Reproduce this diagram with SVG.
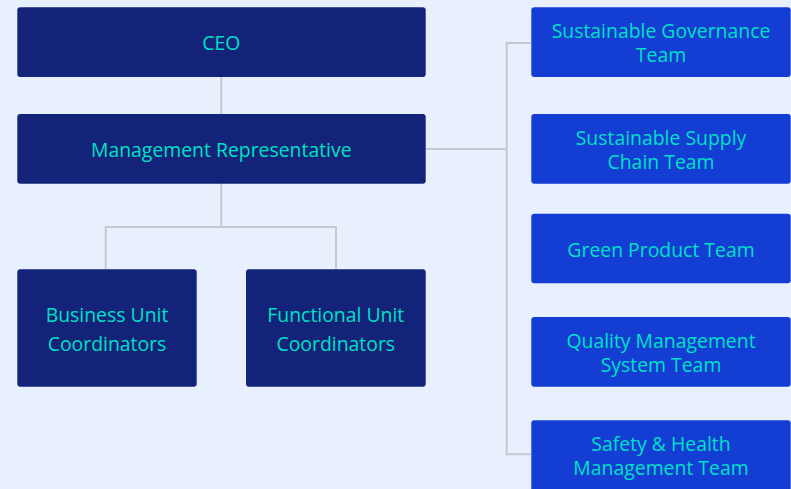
<svg xmlns="http://www.w3.org/2000/svg" width="791" height="489" viewBox="0 0 791 489">
<style>
.bg{fill:#E8F0FE}
.dark{fill:#13237A}
.blue{fill:#133DD3}
.t{font-family:"Open Sans","Noto Sans",sans-serif;font-size:19.4px;fill:#00E0C4;text-anchor:middle}
.c{fill:none;stroke:#C6C9CF;stroke-width:2}
</style>
<rect class="bg" x="0" y="0" width="791" height="489"/>
<g id="connectors">
<path class="c" d="M221.3 77V114"/>
<path class="c" d="M221.3 183.7V227H105.7V269.3M221.3 227H336V269.3"/>
<path class="c" d="M425.7 149H506.7"/>
<path class="c" d="M531.3 43H506.7V454.3H531.3"/>
</g>
<g id="ceo"><rect class="dark" x="17.3" y="7.3" width="408.4" height="69.7" rx="3"/><text class="t" x="221.3" y="50">CEO</text></g>
<g id="mgmt"><rect class="dark" x="17.3" y="114" width="408.4" height="69.7" rx="3"/><text class="t" x="221.3" y="156.7">Management Representative</text></g>
<g id="business"><rect class="dark" x="17.3" y="269.3" width="179.4" height="117.4" rx="3"/><text class="t" x="107" y="322.3">Business Unit</text><text class="t" x="107" y="351.3">Coordinators</text></g>
<g id="functional"><rect class="dark" x="246" y="269.3" width="179.7" height="117.4" rx="3"/><text class="t" x="335.8" y="322.3">Functional Unit</text><text class="t" x="335.8" y="351.3">Coordinators</text></g>
<g id="governance"><rect class="blue" x="531.3" y="7.3" width="259.4" height="69.7" rx="3"/><text class="t" x="661" y="37.7">Sustainable Governance</text><text class="t" x="661" y="62">Team</text></g>
<g id="supply"><rect class="blue" x="531.3" y="114" width="259.4" height="69.7" rx="3"/><text class="t" x="661" y="145">Sustainable Supply</text><text class="t" x="661" y="169">Chain Team</text></g>
<g id="green"><rect class="blue" x="531.3" y="213.7" width="259.4" height="69.6" rx="3"/><text class="t" x="661" y="257">Green Product Team</text></g>
<g id="quality"><rect class="blue" x="531.3" y="317" width="259.4" height="69.7" rx="3"/><text class="t" x="661" y="348">Quality Management</text><text class="t" x="661" y="372">System Team</text></g>
<g id="safety"><rect class="blue" x="531.3" y="420.3" width="259.4" height="75" rx="3"/><text class="t" x="661" y="450.7">Safety &amp; Health</text><text class="t" x="661" y="475">Management Team</text></g>
</svg>
